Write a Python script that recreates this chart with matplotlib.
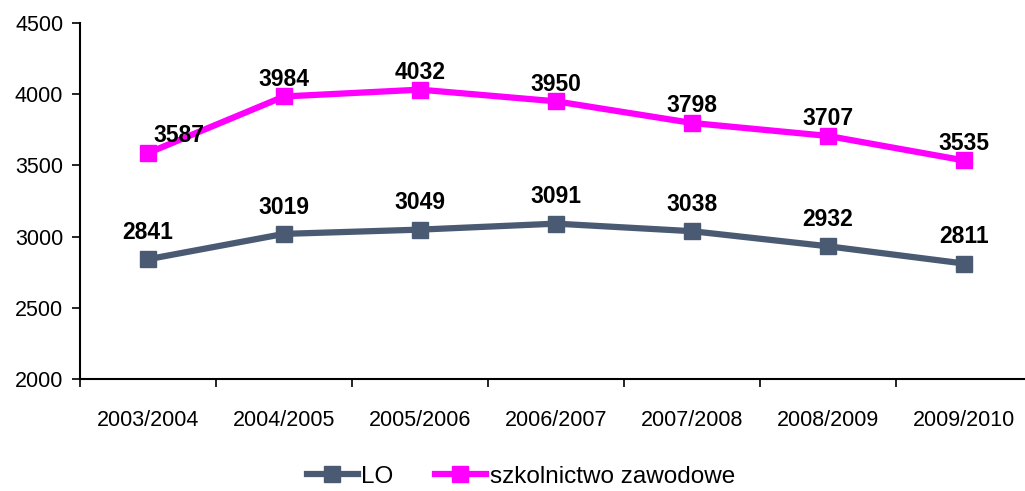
import matplotlib
matplotlib.use("Agg")
import matplotlib.pyplot as plt

years = ["2003/2004", "2004/2005", "2005/2006", "2006/2007", "2007/2008", "2008/2009", "2009/2010"]
lo = [2841, 3019, 3049, 3091, 3038, 2932, 2811]
zawodowe = [3587, 3984, 4032, 3950, 3798, 3707, 3535]

plt.rcParams["font.family"] = ["Liberation Sans", "DejaVu Sans"]

fig = plt.figure(figsize=(10.25, 4.91), dpi=100)
ax = fig.add_axes([80 / 1025, 112 / 491, 952 / 1025, 356 / 491])

x = list(range(len(years)))
ax.plot(x, lo, "-s", color="#4A5A72", lw=4.5, ms=12, label="LO")
ax.plot(x, zawodowe, "-s", color="#FF00FF", lw=4.5, ms=12, label="szkolnictwo zawodowe")

for i, v in enumerate(lo):
    ax.annotate(str(v), (i, v), xytext=(0, 11), textcoords="offset points",
                ha="center", va="bottom", fontsize=16.5, fontweight="bold")
for i, v in enumerate(zawodowe):
    dx = 22 if i == 0 else 0
    ax.annotate(str(v), (i, v), xytext=(dx, 4), textcoords="offset points",
                ha="center", va="bottom", fontsize=16.5, fontweight="bold")

ax.set_xlim(-0.5, 6.5)
ax.set_ylim(2000, 4500)
ax.set_yticks(range(2000, 4501, 500))
ax.set_xticks(x)
ax.set_xticklabels(years)
ax.set_xticks([i - 0.5 for i in range(8)], minor=True)
ax.tick_params(axis="x", which="major", length=0, pad=22, labelsize=15.5)
ax.tick_params(axis="x", which="minor", length=6, width=1.2, direction="out")
ax.tick_params(axis="y", length=6, width=1.2, labelsize=15.5, pad=6)
for s in ("top", "right"):
    ax.spines[s].set_visible(False)
ax.spines["left"].set_linewidth(1.5)
ax.spines["bottom"].set_linewidth(1.5)

fig.legend(loc="lower center", bbox_to_anchor=(0.508, -0.038), ncol=2, frameon=False,
           fontsize=17.5, handlelength=2.1, handletextpad=0.15, columnspacing=1.7)

fig.savefig("out.png", dpi=100)
